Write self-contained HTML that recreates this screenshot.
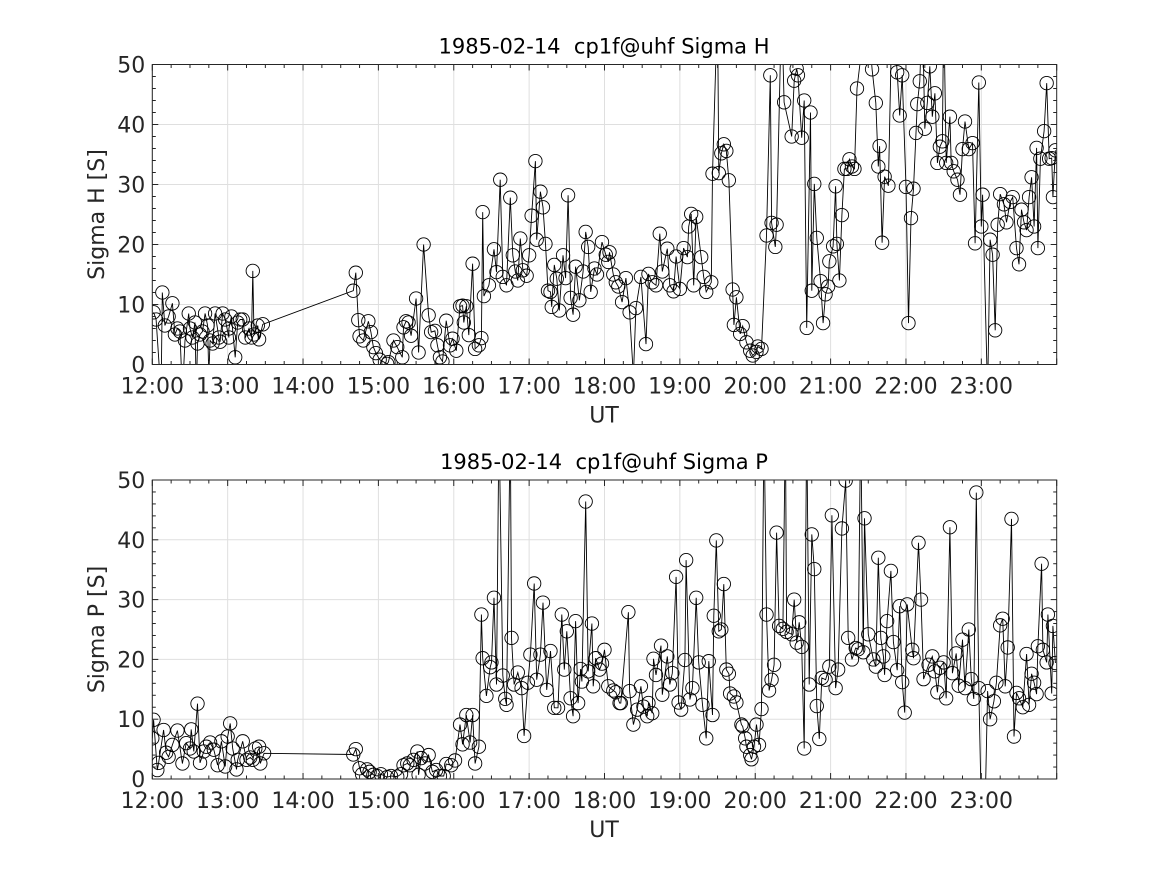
<!DOCTYPE html>
<html><head><meta charset="utf-8"><style>
body{margin:0;background:#fff;}
svg{display:block;font-family:"DejaVu Sans","Liberation Sans",sans-serif;}
</style></head><body>
<svg id="fig" width="1167" height="875" viewBox="0 0 1167 875" xmlns="http://www.w3.org/2000/svg">
<rect width="1167" height="875" fill="#fff"/>
</svg>
<script>
const xTickLabels=["12:00","13:00","14:00","15:00","16:00","17:00","18:00","19:00","20:00","21:00","22:00","23:00"];
const yTickLabels=[0,10,20,30,40,50];
const titles=["1985-02-14\u00a0\u00a0cp1f@uhf Sigma H","1985-02-14\u00a0\u00a0cp1f@uhf Sigma P"];
const yLabels=["Sigma H [S]","Sigma P [S]"];
// minutes since 12:00
const hMin=[1,3,7,8,10,13,16,18,20,22,24,26,29,30,32,34,35,36,38,40,42,44,45,46,48,50,53,54,56,58,61,61,63,66,68,70,72,74,77,79,80,81,84,85,88,
160,162,164,165,168,172,174,176,178,181,187,188,192,195,199,200,202,204,206,210,212,216,220,222,225,227,229,231,234,237,239,242,245,247,248,250,252,255,257,260,262,263,264,268,272,274,277,279,282,285,287,289,291,293,295,298,300,302,305,306,309,311,313,315,317,318,320,322,324,327,329,331,333,335,337,340,343,345,347,349,352,354,358,361,363,364,367,369,371,374,377,380,383,385,389,393,395,398,401,404,406,410,412,415,417,420,423,426,427,429,431,433,437,439,441,445,446,450,451,453,455,457,459,462,463,465,468,470,473,476,478,481,482,485,489,492,493,496,497,501,503,509,511,513,514,517,519,521,524,525,527,529,532,534,536,538,539,542,544,545,547,549,551,553,555,557,559,561,569,573,576,578,579,581,583,586,589,593,595,597,600,602,604,606,608,609,611,613,615,617,619,621,623,625,627,629,630,632,635,636,638,641,643,645,647,650,653,655,658,660,661,665,667,669,671,673,675,678,680,683,685,688,690,692,694,696,698,700,702,704,705,707,710,712,714,716,717,719];
const hVal=[8.7,7.5,-5,12,6.5,8,10.2,5,6,5.5,-5,4,8.5,6,4.5,7,-5,3.5,5,5.5,8.5,6.5,-2,4,3.5,8.5,4.5,3.8,8.5,7.5,4.5,6,8,1.2,7,7.5,7.5,4.5,6,4.5,15.6,5,6.5,4.2,6.7,
12.3,15.3,7.4,4.7,4.0,7.2,5.4,2.9,1.9,0.8,0.1,0.4,4.0,2.9,1.2,6.2,7.2,7.0,4.8,11,2,20,8.2,5.4,5.6,3.2,1.2,0.5,7.3,3.2,4.3,2.3,9.7,9.8,7,9.7,4.9,16.8,2.6,3.2,4.4,25.4,11.4,13.2,19.2,15.4,30.8,14.6,13.2,27.8,18.2,15.5,14,21,15.7,14.8,18.2,24.8,33.9,20.8,28.8,26.2,20.1,12.3,12.1,9.6,16.6,14.3,9,18.2,14.4,28.2,11.1,8.3,16.3,10.7,15.5,22.1,19.6,12.1,16,15,20.4,18.3,17.1,18.7,15,13.7,13,10.4,14.4,8.7,-2,9.4,14.6,3.4,15.1,13.7,13.2,21.8,15.5,19.3,13.2,12.2,18,12.6,19.4,17.9,23,25.1,13.2,24.6,17.9,14.6,12.1,13.7,31.8,60,31.9,35.2,36.7,35.6,30.7,12.5,6.6,11.2,5.1,6.4,3.7,2.3,1.5,2.1,3,2.6,21.5,48.2,23.6,19.6,23.3,60,43.7,38,47.3,49.3,48.2,37.8,44,6.1,42,12.3,30.1,21.1,13.9,6.9,11.7,13,17.2,19.7,29.7,20.1,14,24.9,32.6,32.6,34.2,33,32.6,46,60,49.2,43.6,33,36.4,20.3,31.3,29.8,60,48.7,41.5,48.2,29.6,6.9,24.4,29.3,38.6,43.4,47.2,60,39.3,43.6,49.7,41.3,45.2,33.6,36.3,37.2,60,33.6,41.3,33.6,32.2,30.8,28.3,35.9,40.5,35.9,36.9,20.2,47,23,28.3,-5,20.8,18.3,5.7,23.3,28.4,26.7,23.7,27.1,27.9,19.4,16.7,25.8,23.7,22.4,27.9,31.2,23,36.1,19.4,34.3,38.9,46.9,34.3,34.4,27.9,35.7,34.4];
const pMin=[0,1,4,5,9,11,13,16,20,24,27,30,31,33,36,38,41,43,46,49,52,55,58,60,62,64,67,68,72,75,78,80,82,85,86,89,
160,162,165,167,171,173,176,179,182,187,190,195,198,200,203,205,208,211,212,214,217,220,223,226,229,232,234,238,241,245,247,250,253,255,257,260,262,263,266,269,270,272,274,276,279,281,282,285,286,288,291,294,296,299,301,304,306,309,311,314,317,320,323,326,328,330,333,335,337,339,341,342,345,347,350,351,353,356,358,360,363,367,369,372,373,379,380,383,386,389,391,394,395,398,399,401,405,406,410,412,414,417,419,421,424,425,428,430,433,435,438,441,443,446,447,449,451,453,455,457,459,460,463,465,469,470,472,473,476,477,479,481,483,485,487,489,491,493,495,497,499,502,504,505,509,511,513,515,517,519,521,523,525,527,529,531,533,536,539,541,544,546,549,552,554,557,560,562,564,566,567,570,574,576,578,580,582,583,585,588,590,593,595,597,599,601,605,606,610,612,614,618,621,623,625,627,630,632,635,637,640,642,645,647,650,652,654,656,658,660,663,665,667,670,672,675,677,679,681,684,686,688,690,693,696,698,700,702,704,705,708,709,712,713,716,717,719];
const pVal=[6.8,9.9,1.5,2.7,8.2,4.4,3.7,5.7,8.1,2.6,6,5.1,8.3,4.6,12.6,2.7,4.6,5.4,6.1,4.9,2.3,6.3,2.1,7.1,9.3,5.1,1.6,3.2,6.3,3.2,3.6,3.2,5.1,5.4,2.6,4.3,
4.1,5,1.8,0.8,1.6,1.2,0.7,0.5,0.8,0.3,0.5,0.4,0.8,2.3,2.6,2.3,3.2,4.6,0.7,3.5,2.6,4,1.2,1.5,0.5,0.5,2.5,2.3,3.1,9.1,5.8,10.7,6.1,10.7,2.6,5.4,27.5,20.2,13.9,18.7,19.5,30.3,15.8,60,17.3,13.4,12.4,60,23.6,15.8,17.8,15.2,7.2,16.1,20.8,32.7,16.6,20.8,29.5,14.9,21.4,11.9,11.9,27.5,18.3,24.7,13.5,10.5,26.4,12.7,18.4,16.3,46.4,18,26,15.5,20.2,18.3,19.3,21.6,15.5,14.8,14.5,12.7,12.7,27.9,14.7,9.1,11.6,15.5,12.1,10.5,12.7,11,20.1,17.4,22.3,14.1,20.5,15.8,17.7,33.8,12.8,11.6,19.9,36.6,13.3,15.2,30.3,19.5,12.4,6.8,19.7,10.7,27.3,39.9,24.7,25,32.6,18.3,17.6,14.3,13.8,12.8,9.1,8.8,6.8,5.4,4,3.3,5.4,9.1,5.7,11.7,60,27.5,14.8,16.6,19.1,41.2,25.6,25.1,60,24.6,24.2,30,22.8,26.2,22.1,5.1,60,15.8,40.9,35.1,12.2,6.7,16.9,16.6,18.8,44.1,15.2,18.3,41.9,49.9,23.6,20,21.9,21.7,60,21.2,43.6,24.2,20,18.8,37,23.6,20.5,17.4,26.4,34.8,22.9,18.2,28.9,16.2,11.1,29.2,21.6,20.2,39.5,30,16.7,19.1,20.5,18,14.5,18.6,19.5,13.5,42.1,17.7,21,15.6,23.3,15.2,25,16.7,13.4,47.9,15.2,-5,-5,14.7,10,13,16.1,25.7,26.8,15.5,22,43.5,7.1,14.4,13.5,12,20.9,12.4,17.6,16.1,14.2,22.2,36,21.6,19.5,27.5,14.3,25.6,19.4];

const NS="http://www.w3.org/2000/svg";
const svg=document.getElementById('fig');
function mk(tag,attrs,parent){const e=document.createElementNS(NS,tag);for(const k in attrs)e.setAttribute(k,attrs[k]);(parent||svg).appendChild(e);return e;}
const L=152.3,R=1056.7;
function xs(m){return L+m/720*(R-L);}
function drawPanel(idx,top,bot,mins,vals){
  const g=mk('g',{});
  
  
  const ys=v=>bot-v/50*(bot-top);
  for(let i=0;i<12;i++){const x=xs(i*60);mk('line',{x1:x,x2:x,y1:top,y2:bot,stroke:'#dfdfdf','stroke-width':1},g);}
  yTickLabels.forEach(v=>{const y=ys(v);mk('line',{x1:L,x2:R,y1:y,y2:y,stroke:'#dfdfdf','stroke-width':1},g);});
  const cid='clip'+idx;
  const cp=mk('clipPath',{id:cid},g);mk('rect',{x:L,y:top,width:R-L,height:bot-top},cp);
  const dg=mk('g',{'clip-path':'url(#'+cid+')'},g);
  let d='';
  for(let i=0;i<mins.length;i++){
    d+=(i?' L':'M')+xs(mins[i]).toFixed(1)+','+ys(vals[i]).toFixed(1);
  }
  const line=mk('path',{d:d,fill:'none',stroke:'#000','stroke-width':0.9},dg);
  
  
  for(let i=0;i<mins.length;i++){
    const c=mk('circle',{cx:xs(mins[i]),cy:ys(vals[i]),r:6.7,fill:'none',stroke:'#000','stroke-width':0.9},dg);
    
    
  }
  mk('rect',{x:L,y:top,width:R-L,height:bot-top,fill:'none',stroke:'#262626','stroke-width':1},g);
  for(let m=0;m<=720;m+=15){const x=xs(m);const len=(m%60===0)?6:3.5;
    mk('line',{x1:x,x2:x,y1:bot,y2:bot-len,stroke:'#262626'},g);mk('line',{x1:x,x2:x,y1:top,y2:top+len,stroke:'#262626'},g);}
  for(let v=0;v<=50;v+=2){const y=ys(v);const len=(v%10===0)?6:3.5;
    mk('line',{x1:L,x2:L+len,y1:y,y2:y,stroke:'#262626'},g);mk('line',{x1:R,x2:R-len,y1:y,y2:y,stroke:'#262626'},g);}
  xTickLabels.forEach((t,i)=>{const e=mk('text',{x:xs(i*60),y:bot+29,'text-anchor':'middle','font-size':22,fill:'#262626'},g);e.textContent=t;
    });
  yTickLabels.forEach(v=>{const e=mk('text',{x:L-7,y:ys(v)+8,'text-anchor':'end','font-size':22,fill:'#262626'},g);e.textContent=v;
    });
  const t=mk('text',{x:604,y:top-11,'text-anchor':'middle','font-size':21,fill:'#000'},g);t.textContent=titles[idx];
  
  const xl=mk('text',{x:604,y:bot+58,'text-anchor':'middle','font-size':22,fill:'#262626'},g);xl.textContent='UT';
  
  const cy=(top+bot)/2;
  const yl=mk('text',{x:104,y:cy,'text-anchor':'middle','font-size':22,fill:'#262626',transform:'rotate(-90 104 '+cy+')'},g);yl.textContent=yLabels[idx];
  
}
drawPanel(0,64.5,364.5,hMin,hVal);
drawPanel(1,480,779,pMin,pVal);
</script>
</body></html>
